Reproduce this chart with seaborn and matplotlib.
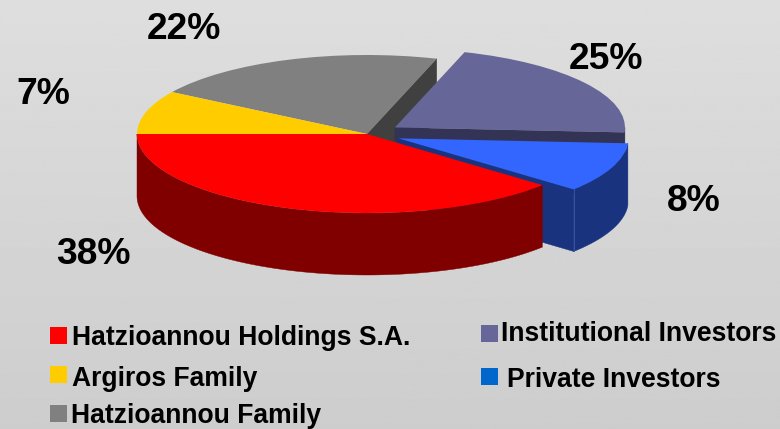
import numpy as np
import matplotlib
matplotlib.use("Agg")
import matplotlib.pyplot as plt
from matplotlib.patches import Polygon, Rectangle
import seaborn as sns

sns.set_theme(style="white")
plt.rcParams["font.family"] = ["Liberation Sans", "DejaVu Sans"]

# slices go counter clockwise from the left edge of the pie
owners = ["Hatzioannou Holdings S.A.", "Private Investors", "Institutional Investors",
          "Hatzioannou Family", "Argiros Family"]
# printed labels
pct_labels = ["38%", "8%", "25%", "22%", "7%"]
# share of the pie as it is actually drawn in the picture (not the same as the printed %)
drawn_shares = [38.8, 10.2, 21.1, 21.0, 8.9]
pull_out = [0, 0.147, 0.147, 0, 0]

top_colors = sns.color_palette(["#FF0000", "#3366FF", "#666699", "#808080", "#FFCC00"])
side_colors = ["#800000", "#19337F", "#333355", "#404040", "#806600"]
legend_colors = {"Hatzioannou Holdings S.A.": "#FF0000", "Argiros Family": "#FFCC00",
                 "Hatzioannou Family": "#808080", "Institutional Investors": "#666699",
                 "Private Investors": "#0066CC"}

W, H = 780, 429
cx, cy = 367, 134     # pie centre, pixels
rx, ry = 230, 79      # pie radii, pixels
depth = 62 / ry       # height of the wall in pie units

fig = plt.figure(figsize=(W / 100, H / 100), dpi=100)

# grey background gradient
bg = fig.add_axes([0, 0, 1, 1])
bg.imshow(np.linspace(222, 205, 256).reshape(-1, 1), cmap="gray", vmin=0, vmax=255,
          aspect="auto", extent=(0, 1, 0, 1))
bg.axis("off")

# pie axes: the squash comes from the unequal x and y scale
ax = fig.add_axes([0, 0, 1, 1])
ax.patch.set_alpha(0)
wedges, _ = ax.pie(drawn_shares, explode=pull_out, startangle=180, colors=top_colors,
                   wedgeprops={"linewidth": 0})
ax.set_aspect("auto")
ax.set_xlim(-cx / rx, (W - cx) / rx)
ax.set_ylim(-(H - cy) / ry, cy / ry)
ax.axis("off")


def arc(w, a1, a2):
    t = np.radians(np.linspace(a1, a2, 120))
    return np.c_[w.center[0] + w.r * np.cos(t), w.center[1] + w.r * np.sin(t)]


def cut(w, a):
    return np.array([w.center, arc(w, a, a)[0]])


def wall(path, color, z):
    low = path[::-1] - [0, depth]
    ax.add_patch(Polygon(np.r_[path, low], closed=True, fc=color, ec=color, lw=0.3, zorder=z))


red, blue, purple, grey, yellow = wedges

# painted back to front
wall(cut(grey, grey.theta1), side_colors[3], 1)
grey.set_zorder(2)
yellow.set_zorder(2)
wall(cut(purple, purple.theta1), side_colors[2], 3)
wall(arc(purple, purple.theta1, 360), side_colors[2], 3)
purple.set_zorder(4)
wall(cut(blue, blue.theta1), side_colors[1], 5)
wall(arc(blue, blue.theta1, blue.theta2), side_colors[1], 5)
blue.set_zorder(6)
corner = arc(blue, blue.theta1, blue.theta1)[0]
ax.plot([corner[0], corner[0]], [corner[1], corner[1] - depth], color="#3A52A0", lw=0.7, zorder=6)
wall(arc(red, red.theta1, red.theta2), side_colors[0], 7)
red.set_zorder(8)

# texts and legend in pixel coordinates
ov = fig.add_axes([0, 0, 1, 1])
ov.set_xlim(0, W)
ov.set_ylim(H, 0)
ov.patch.set_alpha(0)
ov.axis("off")

label_spots = {"38%": (56, 264), "8%": (667, 211), "25%": (569, 69), "22%": (147, 39), "7%": (16, 104)}
for lab in pct_labels:
    x, y = label_spots[lab]
    ov.text(x, y, lab, fontsize=26.8, fontweight="bold", color="black", ha="left", va="baseline")

legend_spots = {
    "Hatzioannou Holdings S.A.": (49.5, 327, 72, 345),
    "Argiros Family": (49.5, 366, 72, 386),
    "Hatzioannou Family": (49.5, 405, 71, 423),
    "Institutional Investors": (481, 325, 501, 341),
    "Private Investors": (481, 368, 507, 387),
}
for name in owners:
    sx, sy, tx, ty = legend_spots[name]
    ov.add_patch(Rectangle((sx, sy), 17, 17, fc=legend_colors[name], ec="none"))
    ov.text(tx, ty, name, fontsize=19.1, fontweight="bold", color="black", ha="left", va="baseline")

fig.savefig("out.png", dpi=100)
